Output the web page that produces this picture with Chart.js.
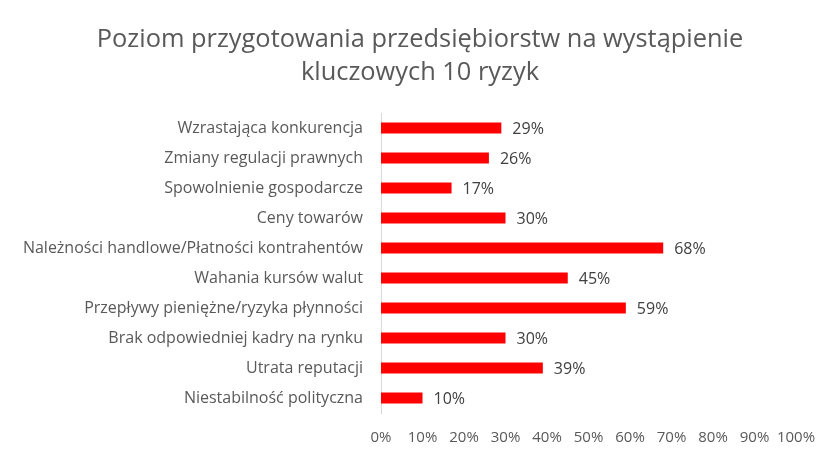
<!DOCTYPE html>
<html><head><meta charset="utf-8">
<script src="https://cdn.jsdelivr.net/npm/chart.js@4"></script>
<style>html,body{margin:0;padding:0;background:#fff}#wrap{width:840px;height:461px}</style>
</head><body><div id="wrap"><canvas id="c" width="840" height="461"></canvas></div>
<script>
const titleLines = ["Poziom przygotowania przedsiębiorstw na wystąpienie", "kluczowych 10 ryzyk"];
const categories = [
  "Wzrastająca konkurencja",
  "Zmiany regulacji prawnych",
  "Spowolnienie gospodarcze",
  "Ceny towarów",
  "Należności handlowe/Płatności kontrahentów",
  "Wahania kursów walut",
  "Przepływy pieniężne/ryzyka płynności",
  "Brak odpowiedniej kadry na rynku",
  "Utrata reputacji",
  "Niestabilność polityczna"
];
const values = [29, 26, 17, 30, 68, 45, 59, 30, 39, 10];
const xTicks = [0, 10, 20, 30, 40, 50, 60, 70, 80, 90, 100];

const FONT = "'Open Sans', sans-serif";
const GREY = '#595959';

const labelPlugin = {
  id: 'valueLabels',
  afterDatasetsDraw(chart) {
    const ctx = chart.ctx;
    const meta = chart.getDatasetMeta(0);
    ctx.save();
    ctx.font = "16px " + FONT;
    ctx.fillStyle = '#404040';
    ctx.textAlign = 'left';
    ctx.textBaseline = 'middle';
    meta.data.forEach((bar, i) => {
      ctx.fillText(values[i] + '%', bar.x + 11, bar.y + 1);
    });
    ctx.restore();
  }
};

const titlePlugin = {
  id: 'centeredTitle',
  afterDraw(chart) {
    const ctx = chart.ctx;
    ctx.save();
    ctx.font = "25.4px " + FONT;
    ctx.fillStyle = GREY;
    ctx.textAlign = 'center';
    ctx.textBaseline = 'middle';
    titleLines.forEach((t, i) => ctx.fillText(t, chart.width / 2, 40.25 + i * 32.5));
    ctx.restore();
  }
};

new Chart(document.getElementById('c'), {
  type: 'bar',
  data: {
    labels: categories,
    datasets: [{
      data: values,
      backgroundColor: '#FF0000',
      borderWidth: 0,
      barPercentage: 0.37,
      categoryPercentage: 1.0
    }]
  },
  options: {
    indexAxis: 'y',
    responsive: false,
    animation: false,
    layout: { padding: { left: 0, right: 44, top: 113, bottom: 0 } },
    plugins: {
      legend: { display: false },
      tooltip: { enabled: false },
      title: { display: false }
    },
    scales: {
      x: {
        min: 0, max: 100,
        afterBuildTicks(s) { s.ticks = xTicks.map(v => ({ value: v })); },
        afterFit(s) { s.height = 48; },
        grid: { display: false, drawTicks: false },
        border: { display: false },
        ticks: {
          color: GREY,
          font: { family: FONT, size: 15 },
          padding: 16,
          maxRotation: 0,
          autoSkip: false,
          callback: v => v + '%'
        }
      },
      y: {
        afterFit(s) { s.width = 381; },
        grid: { display: false, drawTicks: false },
        border: { display: true, color: '#d9d9d9', width: 1 },
        ticks: {
          color: GREY,
          font: { family: FONT, size: 16 },
          padding: 18,
          autoSkip: false
        }
      }
    }
  },
  plugins: [labelPlugin, titlePlugin]
});
</script>
</body></html>
